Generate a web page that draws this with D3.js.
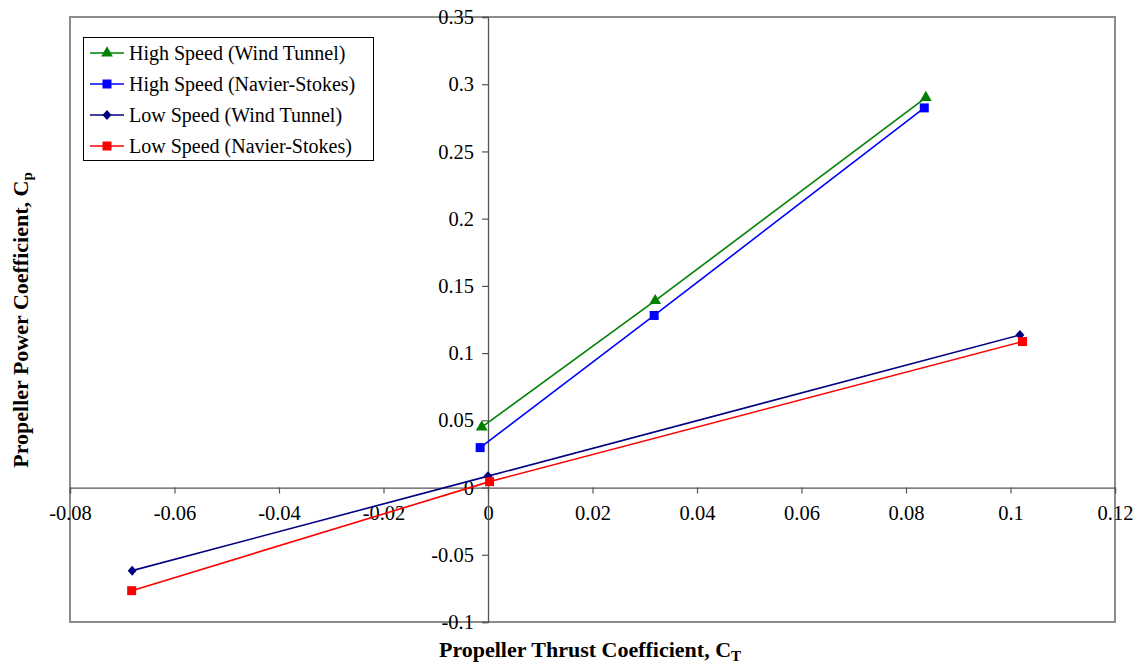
<!DOCTYPE html>
<html>
<head>
<meta charset="utf-8">
<script src="https://cdn.jsdelivr.net/npm/d3@7"></script>
<style>
  body { margin: 0; background: #fff; }
  text { font-family: "Liberation Serif", "Times New Roman", serif; }
</style>
</head>
<body>
<div id="chart"></div>
<script>
'use strict';

var seriesNames = ['High Speed (Wind Tunnel)', 'High Speed (Navier-Stokes)', 'Low Speed (Wind Tunnel)', 'Low Speed (Navier-Stokes)'];
var highWindCt = [-0.0012, 0.032, 0.0838];
var highWindCp = [0.045, 0.139, 0.290];
var highNsCt = [-0.0015, 0.0318, 0.0835];
var highNsCp = [0.0297, 0.128, 0.2824];
var lowWindCt = [-0.0681, 0.0, 0.1018];
var lowWindCp = [-0.0618, 0.0085, 0.1135];
var lowNsCt = [-0.0682, 0.0003, 0.1023];
var lowNsCp = [-0.0767, 0.0044, 0.1086];
var xTicks = [-0.08, -0.06, -0.04, -0.02, 0, 0.02, 0.04, 0.06, 0.08, 0.1, 0.12];
var yTicks = [-0.1, -0.05, 0, 0.05, 0.1, 0.15, 0.2, 0.25, 0.3, 0.35];

var series = [
  { name: seriesNames[0], ct: highWindCt, cp: highWindCp, color: '#008000', marker: 'triangle' },
  { name: seriesNames[1], ct: highNsCt, cp: highNsCp, color: '#0000ff', marker: 'square' },
  { name: seriesNames[2], ct: lowWindCt, cp: lowWindCp, color: '#000080', marker: 'diamond' },
  { name: seriesNames[3], ct: lowNsCt, cp: lowNsCp, color: '#ff0000', marker: 'square' }
];

var width = 1141, height = 665;
var plot = { left: 70, right: 1115, top: 17, bottom: 622 };

var svg = d3.select('#chart')
  .append('svg')
  .attr('width', width)
  .attr('height', height);

var x = d3.scaleLinear().domain([-0.08, 0.12]).range([plot.left, plot.right]);
var y = d3.scaleLinear().domain([-0.1, 0.35]).range([plot.bottom, plot.top]);

// plot frame
svg.append('rect')
  .attr('x', plot.left)
  .attr('y', plot.top)
  .attr('width', plot.right - plot.left)
  .attr('height', plot.bottom - plot.top)
  .attr('fill', 'none')
  .attr('stroke', '#8c8c8c')
  .attr('stroke-width', 2);

function fmt(d) { return d === 0 ? '0' : String(+d.toFixed(2)); }

var xAxis = svg.append('g')
  .attr('transform', 'translate(0,' + y(0) + ')')
  .call(d3.axisBottom(x).tickValues(xTicks).tickFormat(fmt).tickSizeOuter(0).tickSize(6).tickPadding(12));

var yAxis = svg.append('g')
  .attr('transform', 'translate(' + x(0) + ',0)')
  .call(d3.axisLeft(y).tickValues(yTicks).tickFormat(fmt).tickSizeOuter(0).tickSize(6).tickPadding(8));

[xAxis, yAxis].forEach(function (ax) {
  ax.select('.domain').attr('stroke', '#555').attr('stroke-width', 1.3);
  ax.selectAll('.tick line').attr('stroke', '#555').attr('stroke-width', 1.2);
  ax.selectAll('.tick text')
    .attr('fill', '#000')
    .style('font-size', '20.5px')
    .style('font-family', '"Liberation Serif", "Times New Roman", serif');
});

function markerPath(type) {
  if (type === 'triangle') return d3.symbol().type(d3.symbolTriangle).size(60)();
  if (type === 'diamond') return 'M0,-5L4.5,0L0,5L-4.5,0Z';
  return 'M-4.5,-4.5H4.5V4.5H-4.5Z';
}

var line = d3.line()
  .x(function (d) { return x(d[0]); })
  .y(function (d) { return y(d[1]); });

series.forEach(function (s) {
  var pts = s.ct.map(function (c, i) { return [c, s.cp[i]]; });
  var g = svg.append('g');
  g.append('path')
    .datum(pts)
    .attr('d', line)
    .attr('fill', 'none')
    .attr('stroke', s.color)
    .attr('stroke-width', 1.6);
  g.selectAll('path.pt')
    .data(pts)
    .enter()
    .append('path')
    .attr('class', 'pt')
    .attr('d', markerPath(s.marker))
    .attr('transform', function (d) { return 'translate(' + x(d[0]) + ',' + y(d[1]) + ')'; })
    .attr('fill', s.color);
});

// legend
var legend = svg.append('g');
legend.append('rect')
  .attr('x', 83.5)
  .attr('y', 37.5)
  .attr('width', 290)
  .attr('height', 123)
  .attr('fill', '#fff')
  .attr('stroke', '#000')
  .attr('stroke-width', 1);

series.forEach(function (s, i) {
  var ly = 53 + i * 31;
  legend.append('line')
    .attr('x1', 90).attr('x2', 124)
    .attr('y1', ly).attr('y2', ly)
    .attr('stroke', s.color)
    .attr('stroke-width', 1.6);
  legend.append('path')
    .attr('d', markerPath(s.marker))
    .attr('transform', 'translate(107,' + ly + ')')
    .attr('fill', s.color);
  legend.append('text')
    .attr('x', 129)
    .attr('y', ly + 7)
    .style('font-size', '20px')
    .attr('fill', '#000')
    .text(s.name);
});

// axis titles
var xt = svg.append('text')
  .attr('x', 590)
  .attr('y', 657)
  .attr('text-anchor', 'middle')
  .style('font-size', '22px')
  .style('font-weight', 'bold');
xt.append('tspan').text('Propeller Thrust Coefficient, C');
xt.append('tspan').attr('dy', 4).style('font-size', '15px').text('T');

var yt = svg.append('text')
  .attr('transform', 'translate(28,320) rotate(-90)')
  .attr('text-anchor', 'middle')
  .style('font-size', '22px')
  .style('font-weight', 'bold');
yt.append('tspan').text('Propeller Power Coefficient, C');
yt.append('tspan').attr('dy', 4).style('font-size', '15px').text('p');
</script>
</body>
</html>
